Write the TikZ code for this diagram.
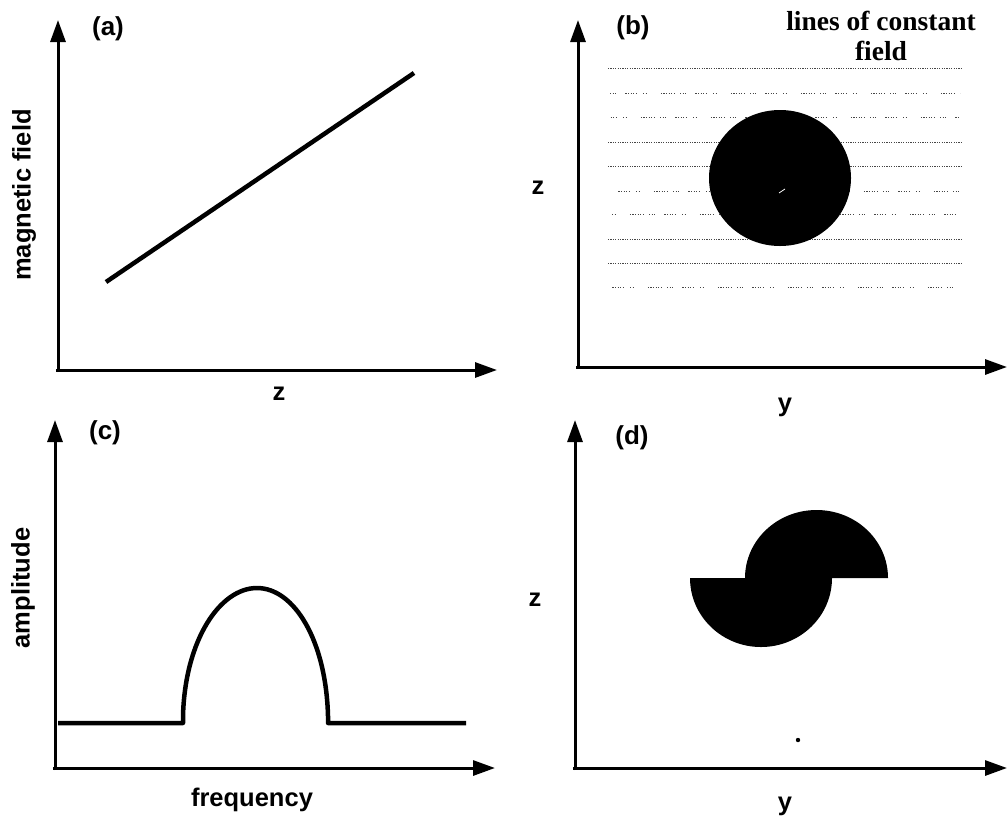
\documentclass[tikz,border=0pt]{standalone}
\usepackage{fontspec}
\setmainfont{Liberation Sans}
\newfontfamily\serifbold{Liberation Serif}
\usetikzlibrary{arrows.meta}
\begin{document}
\begin{tikzpicture}[x=1pt,y=-1pt,
  axis/.style={line width=3pt,-{Triangle[length=22pt,width=15pt]}},
  curve/.style={line width=4.5pt},
  lbl/.style={font=\bfseries\fontsize{25.5}{30}\selectfont,inner sep=0pt},
  tag/.style={font=\bfseries\fontsize{26}{28}\selectfont,inner sep=0pt},
  fld/.style={gray!55!black,line width=0.7pt},
  fldA/.style={fld,dash pattern=on 1.2pt off 1.2pt},
  fldB/.style={fld,dash pattern=on 1.2pt off 1.4pt on 1.2pt off 1.4pt on 1.2pt off 9pt on 1.2pt off 1.4pt on 1.2pt off 1.4pt on 1.2pt off 1.4pt on 1.2pt off 1.4pt on 1.2pt off 6pt on 1.2pt off 1.4pt on 1.2pt off 14pt on 1.2pt off 1.4pt on 1.2pt off 1.4pt on 1.2pt off 1.4pt on 1.2pt off 1.4pt on 1.2pt off 1.4pt on 1.2pt off 5pt}]
\useasboundingbox (0,0) rectangle (1008,820);
% ---------- (a)
\draw[axis] (58,372) -- (58,20);
\draw[axis] (56,370) -- (497,370);
\draw[curve] (106,282) -- (414,73);
\node[tag] (ta) at (108,29) {(a)};
\node[lbl,rotate=90] (ya) at (24,195) {magnetic field};
\node[lbl] (xa) at (279,394) {z};
% ---------- (b)
\draw[axis] (578,369) -- (578,20);
\draw[axis] (576,367) -- (1007,367);
\foreach \yy in {68,142,166,239,263}
  \draw[fldA] (608,\yy) -- (962,\yy);
\foreach \yy/\sh in {93/0,117/20,191/7,214/31,287/13}
  \draw[fldB,dash phase=\sh pt] (610,\yy) -- (960,\yy);
\fill (780,178) ellipse [x radius=71, y radius=68];
\draw[white,line width=0.8pt] (779,193) -- (785,189);
\node[tag] (tb) at (633,28) {(b)};
\node[inner sep=0pt,align=center,font=\serifbold\bfseries\fontsize{27.5}{32}\selectfont] (lc) at (881,36) {\makebox[0pt][c]{lines of constant}\\[-2pt]field};
\node[lbl] (zb) at (538,188) {z};
\node[lbl] (yb) at (785,407) {y};
% ---------- (c)
\draw[axis] (55,770) -- (55,420);
\draw[axis] (53,768) -- (495,768);
\draw[curve,line join=round] (58,723) -- (183,723) -- (183,716)
  .. controls (185,640) and (220,588) .. (257,588)
  .. controls (294,588) and (326,640) .. (328,716) -- (328,723) -- (466,723);
\node[tag] (tc) at (105,433) {(c)};
\node[lbl,rotate=90] (yc) at (23,588) {amplitude};
\node[lbl] (xc) at (252,800) {frequency};
% ---------- (d)
\draw[axis] (575,770) -- (575,420);
\draw[axis] (573,768) -- (1007,768);
\fill (745,578) arc[start angle=180,end angle=360,x radius=71.5,y radius=68] -- cycle;
\fill (690,578) arc[start angle=180,end angle=0,x radius=71,y radius=69] -- cycle;
\fill (798,740) circle (2.2);
\node[tag] (td) at (632,438) {(d)};
\node[lbl] (zd) at (535,600) {z};
\node[lbl] (yd) at (785,806) {y};
\end{tikzpicture}
\end{document}
